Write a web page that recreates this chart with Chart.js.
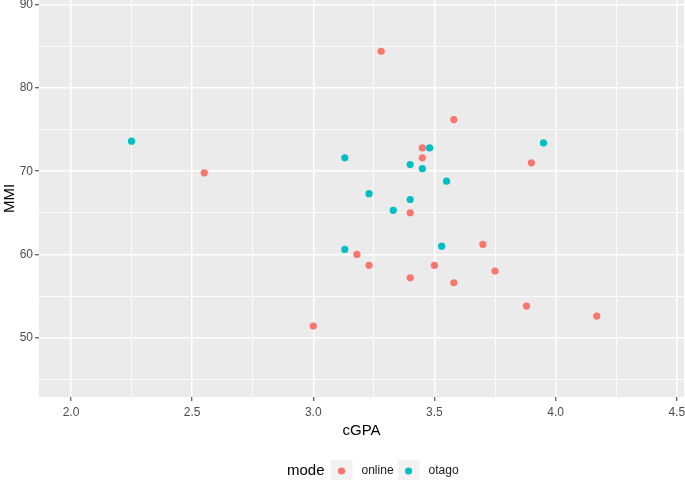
<!DOCTYPE html>
<html>
<head>
<meta charset="utf-8">
<script src="https://cdn.jsdelivr.net/npm/chart.js@4/dist/chart.umd.min.js"></script>
<style>
  html, body { margin: 0; padding: 0; background: #ffffff; }
  canvas { display: block; }
</style>
</head>
<body>
<canvas id="c" width="685" height="480"></canvas>
<script>
// ---- data ----
const seriesNames = ['online', 'otago'];
const seriesColors = ['#F8766D', '#00BFC4'];
const onlineCGPA = [3.45, 3.45, 3.90, 3.40, 3.70, 3.18, 3.23, 3.50, 3.75, 3.40, 3.58, 3.88, 2.55, 3.28, 3.58, 4.17, 3.00];
const onlineMMI  = [72.8, 71.6, 71.0, 65.0, 61.2, 60.0, 58.7, 58.7, 58.0, 57.2, 56.6, 53.8, 69.8, 84.4, 76.2, 52.6, 51.4];
const otagoCGPA  = [3.13, 3.48, 3.95, 3.40, 3.45, 3.55, 3.23, 3.40, 3.33, 3.13, 3.53, 2.25];
const otagoMMI   = [71.6, 72.8, 73.4, 70.8, 70.3, 68.8, 67.3, 66.6, 65.3, 60.6, 61.0, 73.6];
const xMajorTicks = [2.0, 2.5, 3.0, 3.5, 4.0, 4.5];
const xMinorTicks = [2.25, 2.75, 3.25, 3.75, 4.25];
const yMajorTicks = [50, 60, 70, 80, 90];
const yMinorTicks = [45, 55, 65, 75, 85];
const xTitle = 'cGPA';
const yTitle = 'MMI';
const legendTitle = 'mode';

const FONT = "'Liberation Sans', Arial, sans-serif";

// keep the plot panel flush with the canvas edges (no point-radius overflow padding)
const ScatterCtl = Chart.registry.getController('scatter');
ScatterCtl.prototype.getMaxOverflow = function () { return 0; };

function toPoints(xs, ys) { return xs.map((x, i) => ({ x: x, y: ys[i] })); }

const panelBg = {
  id: 'panelBg',
  beforeDraw(chart) {
    const { ctx, chartArea: a } = chart;
    ctx.save();
    ctx.fillStyle = '#EBEBEB';
    ctx.fillRect(a.left, a.top, a.right - a.left, a.bottom - a.top);
    ctx.restore();
  }
};

const ggLegend = {
  id: 'ggLegend',
  afterDraw(chart) {
    const ctx = chart.ctx;
    const cy = 471;
    let x = 287;
    ctx.save();
    ctx.textBaseline = 'middle';
    ctx.textAlign = 'left';
    ctx.fillStyle = '#000000';
    ctx.font = '15px ' + FONT;
    ctx.fillText(legendTitle, x, cy);
    x += ctx.measureText(legendTitle).width + 6;
    chart.data.datasets.forEach((ds) => {
      ctx.fillStyle = '#F2F2F2';
      ctx.fillRect(x, cy - 11, 22, 21);
      ctx.fillStyle = ds.backgroundColor;
      ctx.beginPath();
      ctx.arc(x + 11, cy, 3.6, 0, Math.PI * 2);
      ctx.fill();
      x += 31;
      ctx.fillStyle = '#1A1A1A';
      ctx.font = '12px ' + FONT;
      ctx.fillText(ds.label, x, cy);
      x += ctx.measureText(ds.label).width + 4;
    });
    ctx.restore();
  }
};

function isMajor(list, v) { return list.some(m => Math.abs(m - v) < 1e-6); }

new Chart(document.getElementById('c'), {
  type: 'scatter',
  data: {
    datasets: [
      { label: seriesNames[0], data: toPoints(onlineCGPA, onlineMMI), backgroundColor: seriesColors[0], borderWidth: 0, pointRadius: 3.6, pointHoverRadius: 3.6 },
      { label: seriesNames[1], data: toPoints(otagoCGPA, otagoMMI), backgroundColor: seriesColors[1], borderWidth: 0, pointRadius: 3.6, pointHoverRadius: 3.6 }
    ]
  },
  options: {
    responsive: false,
    animation: false,
    events: [],
    layout: { padding: { left: 0, right: 1, top: 0, bottom: 40 } },
    plugins: { legend: { display: false }, tooltip: { enabled: false } },
    scales: {
      x: {
        type: 'linear',
        min: 1.868, max: 4.530,
        afterBuildTicks(s) { s.ticks = xMajorTicks.concat(xMinorTicks).sort((a, b) => a - b).map(v => ({ value: v })); },
        afterFit(s) { s.height = 43; s.paddingLeft = 0; s.paddingRight = 0; },
        border: { display: false },
        grid: {
          color: '#FFFFFF',
          lineWidth: (c) => isMajor(xMajorTicks, c.tick.value) ? 1.5 : 0.8,
          drawTicks: true, tickLength: 4, tickWidth: 1,
          tickColor: (c) => isMajor(xMajorTicks, c.tick.value) ? '#333333' : 'rgba(0,0,0,0)'
        },
        ticks: {
          autoSkip: false, maxRotation: 0, padding: 4,
          color: '#4D4D4D', font: { family: FONT, size: 12 },
          callback: (v) => isMajor(xMajorTicks, v) ? Number(v).toFixed(1) : ''
        },
        title: { display: true, text: xTitle, color: '#000000', font: { family: FONT, size: 15 }, padding: { top: 0, bottom: 0 } }
      },
      y: {
        type: 'linear',
        min: 42.88, max: 90.56,
        afterBuildTicks(s) { s.ticks = yMajorTicks.concat(yMinorTicks).sort((a, b) => a - b).map(v => ({ value: v })); },
        afterFit(s) { s.width = 39; s.paddingTop = 0; s.paddingBottom = 0; },
        border: { display: false },
        grid: {
          color: '#FFFFFF',
          lineWidth: (c) => isMajor(yMajorTicks, c.tick.value) ? 1.5 : 0.8,
          drawTicks: true, tickLength: 4, tickWidth: 1,
          tickColor: (c) => isMajor(yMajorTicks, c.tick.value) ? '#333333' : 'rgba(0,0,0,0)'
        },
        ticks: {
          autoSkip: false, padding: 2,
          color: '#4D4D4D', font: { family: FONT, size: 12 },
          callback: (v) => isMajor(yMajorTicks, v) ? String(v) : ''
        },
        title: { display: true, text: yTitle, color: '#000000', font: { family: FONT, size: 15 }, padding: { top: 1, bottom: 0 } }
      }
    }
  },
  plugins: [panelBg, ggLegend]
});
</script>
</body>
</html>
